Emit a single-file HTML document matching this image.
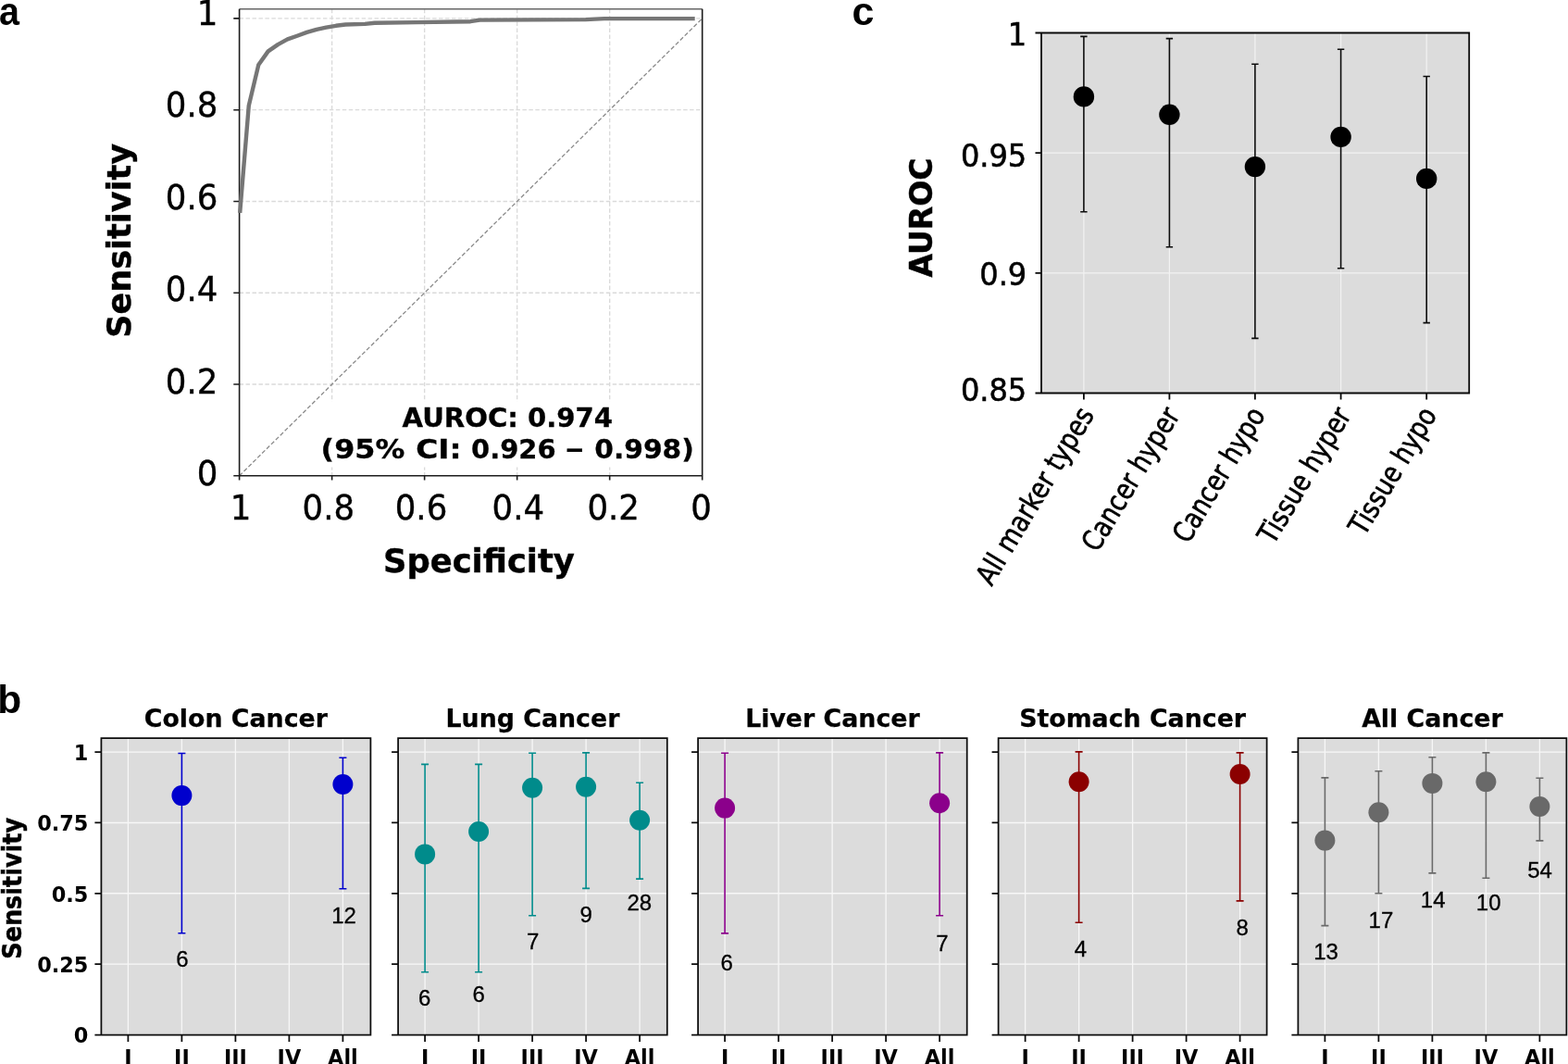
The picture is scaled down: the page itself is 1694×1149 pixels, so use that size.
<!DOCTYPE html>
<html lang="en">
<head>
<meta charset="utf-8">
<title>Figure</title>
<style>
html,body{margin:0;padding:0;background:#fff;}
.t{font-family:"DejaVu Sans Condensed","DejaVu Sans","Liberation Sans",sans-serif;}
.d,.db{font-family:"DejaVu Sans","Liberation Sans",sans-serif;}
.l,.lb{font-family:"Liberation Sans","DejaVu Sans",sans-serif;}
.db,.lb{font-weight:bold;}
body{width:1694px;height:1149px;overflow:hidden;font-family:"Liberation Sans",sans-serif;}
svg{display:block;}
</style>
</head>
<body>
<svg width="1694" height="1149" viewBox="0 0 1694 1149">
<rect width="1694" height="1149" fill="#fff"/>
<text class="lb" font-size="42.5" transform="translate(-1.00 27.20) scale(0.93 1)">a</text>
<text class="lb" font-size="42.5" transform="translate(920.50 27.20) scale(1.01 1)">c</text>
<text class="lb" font-size="42.5" x="-2.70" y="770.00">b</text>
<path d="M358.62 9.7V513.8M458.64 9.7V513.8M558.66 9.7V513.8M658.68 9.7V513.8M258.6 19.90H758.7M258.6 118.68H758.7M258.6 217.46H758.7M258.6 316.24H758.7M258.6 415.02H758.7" fill="none" stroke="#dadada" stroke-width="1.35" stroke-dasharray="4.5 2.45"/>
<line x1="258.60" y1="513.80" x2="758.70" y2="19.90" stroke="#8a8a8a" stroke-width="1.3" stroke-dasharray="4.5 2.4"/>
<rect x="345" y="433.5" width="410" height="71" fill="#fff"/>
<path d="M258.6 9.7H758.7" fill="none" stroke="#666" stroke-width="1.6"/>
<path d="M258.6 9.7V513.8H758.7V9.7M252.30 19.90h6.3M258.60 513.8v4.6M252.30 118.68h6.3M358.62 513.8v4.6M252.30 217.46h6.3M458.64 513.8v4.6M252.30 316.24h6.3M558.66 513.8v4.6M252.30 415.02h6.3M658.68 513.8v4.6M252.30 513.80h6.3M758.70 513.8v4.6" fill="none" stroke="#1c1c1c" stroke-width="1.6"/>
<path d="M259.2 229.9L268.8 113.9L279.3 70.0L289.7 55.4L300.2 48.1L310.6 42.4L321.0 38.7L331.5 34.9L342.0 31.8L352.4 29.7L362.9 27.8L373.3 26.5L394.2 25.9L404.7 24.7L450.0 24.1L508.2 23.2L518.3 21.6L632.7 21.1L652.8 20.1L750.7 20.1" fill="none" stroke="#767676" stroke-width="4.4" stroke-linejoin="round"/>
<text class="t" font-size="36.5" text-anchor="end" stroke="#000" stroke-width="0.35" transform="translate(235.30 26.80) scale(1.082 1)">1</text>
<text class="t" font-size="36.5" text-anchor="end" stroke="#000" stroke-width="0.35" transform="translate(235.30 126.32) scale(1.082 1)">0.8</text>
<text class="t" font-size="36.5" text-anchor="end" stroke="#000" stroke-width="0.35" transform="translate(235.30 225.84) scale(1.082 1)">0.6</text>
<text class="t" font-size="36.5" text-anchor="end" stroke="#000" stroke-width="0.35" transform="translate(235.30 325.36) scale(1.082 1)">0.4</text>
<text class="t" font-size="36.5" text-anchor="end" stroke="#000" stroke-width="0.35" transform="translate(235.30 424.88) scale(1.082 1)">0.2</text>
<text class="t" font-size="36.5" text-anchor="end" stroke="#000" stroke-width="0.35" transform="translate(235.30 524.40) scale(1.082 1)">0</text>
<text class="t" font-size="36.5" text-anchor="middle" stroke="#000" stroke-width="0.35" transform="translate(260.00 560.60) scale(1.082 1)">1</text>
<text class="t" font-size="36.5" text-anchor="middle" stroke="#000" stroke-width="0.35" transform="translate(354.80 560.60) scale(1.082 1)">0.8</text>
<text class="t" font-size="36.5" text-anchor="middle" stroke="#000" stroke-width="0.35" transform="translate(455.00 560.60) scale(1.082 1)">0.6</text>
<text class="t" font-size="36.5" text-anchor="middle" stroke="#000" stroke-width="0.35" transform="translate(559.80 560.60) scale(1.082 1)">0.4</text>
<text class="t" font-size="36.5" text-anchor="middle" stroke="#000" stroke-width="0.35" transform="translate(662.70 560.60) scale(1.082 1)">0.2</text>
<text class="t" font-size="36.5" text-anchor="middle" stroke="#000" stroke-width="0.35" transform="translate(757.50 560.60) scale(1.082 1)">0</text>
<text class="db" font-size="36" text-anchor="middle" stroke="#000" stroke-width="0.4" transform="translate(517.40 618.00) scale(0.982 1)">Specificity</text>
<text class="db" font-size="36" text-anchor="middle" stroke="#000" stroke-width="0.4" transform="translate(141.00 259.80) rotate(-90) scale(0.973 1)">Sensitivity</text>
<text class="db" font-size="28" text-anchor="middle" stroke="#000" stroke-width="0.3" transform="translate(548.30 461.00) scale(1.04 1)">AUROC: 0.974</text>
<text class="db" font-size="28" y="495" stroke="#000" stroke-width="0.3"><tspan x="346.63" textLength="90.68" lengthAdjust="spacingAndGlyphs">(95%</tspan> <tspan x="449.23" textLength="49.33" lengthAdjust="spacingAndGlyphs">CI:</tspan> <tspan x="509.07" textLength="91.49" lengthAdjust="spacingAndGlyphs">0.926</tspan> <tspan x="610.04" textLength="21.58" lengthAdjust="spacingAndGlyphs">−</tspan> <tspan x="642.24" textLength="107.65" lengthAdjust="spacingAndGlyphs">0.998)</tspan></text>
<rect x="1125.0" y="35.5" width="462.20" height="389.00" fill="#dcdcdc"/>
<path d="M1125.0 165.17H1587.2M1125.0 294.83H1587.2M1170.9 35.5V424.5M1263.4 35.5V424.5M1355.9 35.5V424.5M1448.6 35.5V424.5M1541.2 35.5V424.5" fill="none" stroke="#f2f2f2" stroke-width="1.25"/>
<path d="M1170.9 39.4V228.7M1167.20 39.4h7.4M1167.20 228.7h7.4M1263.4 41.6V266.7M1259.70 41.6h7.4M1259.70 266.7h7.4M1355.9 69.3V365.4M1352.20 69.3h7.4M1352.20 365.4h7.4M1448.6 53.3V289.7M1444.90 53.3h7.4M1444.90 289.7h7.4M1541.2 82.5V348.6M1537.50 82.5h7.4M1537.50 348.6h7.4" fill="none" stroke="#0c0c0c" stroke-width="1.6"/>
<circle cx="1170.9" cy="104.4" r="11.2" fill="#000"/>
<circle cx="1263.4" cy="123.8" r="11.2" fill="#000"/>
<circle cx="1355.9" cy="180.1" r="11.2" fill="#000"/>
<circle cx="1448.6" cy="147.9" r="11.2" fill="#000"/>
<circle cx="1541.2" cy="192.9" r="11.2" fill="#000"/>
<path d="M1125.0 35.5H1587.2V424.5H1125.0ZM1118.50 35.50h6.5M1118.50 165.17h6.5M1118.50 294.83h6.5M1118.50 424.50h6.5M1170.9 424.5v7M1263.4 424.5v7M1355.9 424.5v7M1448.6 424.5v7M1541.2 424.5v7" fill="none" stroke="#0a0a0a" stroke-width="1.8"/>
<text class="t" font-size="33" text-anchor="end" stroke="#000" stroke-width="0.5" transform="translate(1109.20 48.90) scale(1.078 1)">1</text>
<text class="t" font-size="33" text-anchor="end" stroke="#000" stroke-width="0.5" transform="translate(1109.20 180.10) scale(1.078 1)">0.95</text>
<text class="t" font-size="33" text-anchor="end" stroke="#000" stroke-width="0.5" transform="translate(1109.20 308.10) scale(1.078 1)">0.9</text>
<text class="t" font-size="33" text-anchor="end" stroke="#000" stroke-width="0.5" transform="translate(1109.20 432.70) scale(1.078 1)">0.85</text>
<text class="t" font-size="31" text-anchor="end" stroke="#000" stroke-width="0.6" transform="translate(1182.90 448.00) rotate(-59) scale(0.95 1)">All marker types</text>
<text class="t" font-size="31" text-anchor="end" stroke="#000" stroke-width="0.6" transform="translate(1275.40 448.00) rotate(-59) scale(0.93 1)">Cancer hyper</text>
<text class="t" font-size="31" text-anchor="end" stroke="#000" stroke-width="0.6" transform="translate(1367.90 448.00) rotate(-59) scale(0.93 1)">Cancer hypo</text>
<text class="t" font-size="31" text-anchor="end" stroke="#000" stroke-width="0.6" transform="translate(1460.60 448.00) rotate(-59) scale(0.93 1)">Tissue hyper</text>
<text class="t" font-size="31" text-anchor="end" stroke="#000" stroke-width="0.6" transform="translate(1553.20 448.00) rotate(-59) scale(0.93 1)">Tissue hypo</text>
<text class="db" font-size="33" text-anchor="middle" stroke="#000" stroke-width="0.5" transform="translate(1007.40 235.00) rotate(-90)">AUROC</text>
<rect x="109.4" y="797.0" width="291.00" height="320.60" fill="#dcdcdc"/>
<path d="M109.40 812.20H400.40M109.40 888.48H400.40M109.40 964.75H400.40M109.40 1041.03H400.40M138.40 797.0V1117.60M196.40 797.0V1117.60M254.40 797.0V1117.60M312.40 797.0V1117.60M370.40 797.0V1117.60" fill="none" stroke="#f7f7f7" stroke-width="1.3"/>
<path d="M196.40 813.5V1007.8M192.40 813.5h8.0M192.40 1007.8h8.0M370.40 818.2V959.7M366.40 818.2h8.0M366.40 959.7h8.0" fill="none" stroke="#0000cd" stroke-width="1.6"/>
<circle cx="196.40" cy="859.1" r="11" fill="#0000cd"/>
<text class="l" font-size="24" text-anchor="middle" stroke="#000" stroke-width="0.3" x="196.90" y="1044.00">6</text>
<circle cx="370.40" cy="847" r="11" fill="#0000cd"/>
<text class="l" font-size="24" text-anchor="middle" stroke="#000" stroke-width="0.3" x="371.50" y="996.80">12</text>
<path d="M109.40 797.0H400.40V1117.60H109.40ZM102.40 812.20h7M102.40 888.48h7M102.40 964.75h7M102.40 1041.03h7M102.40 1117.60h7M138.40 1117.60v7.4M196.40 1117.60v7.4M254.40 1117.60v7.4M312.40 1117.60v7.4M370.40 1117.60v7.4" fill="none" stroke="#0c0c0c" stroke-width="1.75"/>
<text class="db" font-size="22.4" text-anchor="end" x="95.40" y="821.20">1</text>
<text class="db" font-size="22.4" text-anchor="end" x="95.40" y="897.48">0.75</text>
<text class="db" font-size="22.4" text-anchor="end" x="95.40" y="973.75">0.5</text>
<text class="db" font-size="22.4" text-anchor="end" x="95.40" y="1050.03">0.25</text>
<text class="db" font-size="22.4" text-anchor="end" x="95.40" y="1126.30">0</text>
<text class="db" font-size="22.4" text-anchor="middle" x="138.40" y="1150.10">I</text>
<text class="db" font-size="22.4" text-anchor="middle" x="196.40" y="1150.10">II</text>
<text class="db" font-size="22.4" text-anchor="middle" x="254.40" y="1150.10">III</text>
<text class="db" font-size="22.4" text-anchor="middle" x="312.40" y="1150.10">IV</text>
<text class="db" font-size="22.4" text-anchor="middle" x="370.40" y="1150.10">All</text>
<text class="db" font-size="26.8" text-anchor="middle" stroke="#000" stroke-width="0.25" x="254.90" y="785.30">Colon Cancer</text>
<rect x="430.1" y="797.0" width="290.70" height="320.60" fill="#dcdcdc"/>
<path d="M430.10 812.20H720.80M430.10 888.48H720.80M430.10 964.75H720.80M430.10 1041.03H720.80M459.10 797.0V1117.60M517.10 797.0V1117.60M575.10 797.0V1117.60M633.10 797.0V1117.60M691.10 797.0V1117.60" fill="none" stroke="#f7f7f7" stroke-width="1.3"/>
<path d="M459.10 825.4V1049.8M455.10 825.4h8.0M455.10 1049.8h8.0M517.10 825.4V1049.8M513.10 825.4h8.0M513.10 1049.8h8.0M575.10 813.2V988.7M571.10 813.2h8.0M571.10 988.7h8.0M633.10 812.9V959.4M629.10 812.9h8.0M629.10 959.4h8.0M691.10 845.2V949.1M687.10 845.2h8.0M687.10 949.1h8.0" fill="none" stroke="#008b8b" stroke-width="1.6"/>
<circle cx="459.10" cy="922.4" r="11" fill="#008b8b"/>
<text class="l" font-size="24" text-anchor="middle" stroke="#000" stroke-width="0.3" x="458.60" y="1085.50">6</text>
<circle cx="517.10" cy="898" r="11" fill="#008b8b"/>
<text class="l" font-size="24" text-anchor="middle" stroke="#000" stroke-width="0.3" x="517.10" y="1082.20">6</text>
<circle cx="575.10" cy="850.8" r="11" fill="#008b8b"/>
<text class="l" font-size="24" text-anchor="middle" stroke="#000" stroke-width="0.3" x="575.60" y="1025.40">7</text>
<circle cx="633.10" cy="849.8" r="11" fill="#008b8b"/>
<text class="l" font-size="24" text-anchor="middle" stroke="#000" stroke-width="0.3" x="633.10" y="996.40">9</text>
<circle cx="691.10" cy="885.8" r="11" fill="#008b8b"/>
<text class="l" font-size="24" text-anchor="middle" stroke="#000" stroke-width="0.3" x="690.80" y="983.20">28</text>
<path d="M430.10 797.0H720.80V1117.60H430.10ZM423.10 812.20h7M423.10 888.48h7M423.10 964.75h7M423.10 1041.03h7M423.10 1117.60h7M459.10 1117.60v7.4M517.10 1117.60v7.4M575.10 1117.60v7.4M633.10 1117.60v7.4M691.10 1117.60v7.4" fill="none" stroke="#0c0c0c" stroke-width="1.75"/>
<text class="db" font-size="22.4" text-anchor="middle" x="459.10" y="1150.10">I</text>
<text class="db" font-size="22.4" text-anchor="middle" x="517.10" y="1150.10">II</text>
<text class="db" font-size="22.4" text-anchor="middle" x="575.10" y="1150.10">III</text>
<text class="db" font-size="22.4" text-anchor="middle" x="633.10" y="1150.10">IV</text>
<text class="db" font-size="22.4" text-anchor="middle" x="691.10" y="1150.10">All</text>
<text class="db" font-size="26.8" text-anchor="middle" stroke="#000" stroke-width="0.25" x="575.45" y="785.30">Lung Cancer</text>
<rect x="754.1" y="797.0" width="290.60" height="320.60" fill="#dcdcdc"/>
<path d="M754.10 812.20H1044.70M754.10 888.48H1044.70M754.10 964.75H1044.70M754.10 1041.03H1044.70M783.10 797.0V1117.60M841.10 797.0V1117.60M899.10 797.0V1117.60M957.10 797.0V1117.60M1015.10 797.0V1117.60" fill="none" stroke="#f7f7f7" stroke-width="1.3"/>
<path d="M783.10 813.2V1007.9M779.10 813.2h8.0M779.10 1007.9h8.0M1015.10 812.9V988.7M1011.10 812.9h8.0M1011.10 988.7h8.0" fill="none" stroke="#8b008b" stroke-width="1.6"/>
<circle cx="783.10" cy="872.6" r="11" fill="#8b008b"/>
<text class="l" font-size="24" text-anchor="middle" stroke="#000" stroke-width="0.3" x="785.10" y="1047.90">6</text>
<circle cx="1015.10" cy="867.3" r="11" fill="#8b008b"/>
<text class="l" font-size="24" text-anchor="middle" stroke="#000" stroke-width="0.3" x="1018.00" y="1027.40">7</text>
<path d="M754.10 797.0H1044.70V1117.60H754.10ZM747.10 812.20h7M747.10 888.48h7M747.10 964.75h7M747.10 1041.03h7M747.10 1117.60h7M783.10 1117.60v7.4M841.10 1117.60v7.4M899.10 1117.60v7.4M957.10 1117.60v7.4M1015.10 1117.60v7.4" fill="none" stroke="#0c0c0c" stroke-width="1.75"/>
<text class="db" font-size="22.4" text-anchor="middle" x="783.10" y="1150.10">I</text>
<text class="db" font-size="22.4" text-anchor="middle" x="841.10" y="1150.10">II</text>
<text class="db" font-size="22.4" text-anchor="middle" x="899.10" y="1150.10">III</text>
<text class="db" font-size="22.4" text-anchor="middle" x="957.10" y="1150.10">IV</text>
<text class="db" font-size="22.4" text-anchor="middle" x="1015.10" y="1150.10">All</text>
<text class="db" font-size="26.8" text-anchor="middle" stroke="#000" stroke-width="0.25" x="899.40" y="785.30">Liver Cancer</text>
<rect x="1078.6" y="797.0" width="290.00" height="320.60" fill="#dcdcdc"/>
<path d="M1078.60 812.20H1368.60M1078.60 888.48H1368.60M1078.60 964.75H1368.60M1078.60 1041.03H1368.60M1107.60 797.0V1117.60M1165.60 797.0V1117.60M1223.60 797.0V1117.60M1281.60 797.0V1117.60M1339.60 797.0V1117.60" fill="none" stroke="#f7f7f7" stroke-width="1.3"/>
<path d="M1165.60 811.9V996.3M1161.60 811.9h8.0M1161.60 996.3h8.0M1339.60 812.9V972.9M1335.60 812.9h8.0M1335.60 972.9h8.0" fill="none" stroke="#8b0000" stroke-width="1.6"/>
<circle cx="1165.60" cy="844.2" r="11" fill="#8b0000"/>
<text class="l" font-size="24" text-anchor="middle" stroke="#000" stroke-width="0.3" x="1167.50" y="1032.70">4</text>
<circle cx="1339.60" cy="836" r="11" fill="#8b0000"/>
<text class="l" font-size="24" text-anchor="middle" stroke="#000" stroke-width="0.3" x="1342.30" y="1009.90">8</text>
<path d="M1078.60 797.0H1368.60V1117.60H1078.60ZM1071.60 812.20h7M1071.60 888.48h7M1071.60 964.75h7M1071.60 1041.03h7M1071.60 1117.60h7M1107.60 1117.60v7.4M1165.60 1117.60v7.4M1223.60 1117.60v7.4M1281.60 1117.60v7.4M1339.60 1117.60v7.4" fill="none" stroke="#0c0c0c" stroke-width="1.75"/>
<text class="db" font-size="22.4" text-anchor="middle" x="1107.60" y="1150.10">I</text>
<text class="db" font-size="22.4" text-anchor="middle" x="1165.60" y="1150.10">II</text>
<text class="db" font-size="22.4" text-anchor="middle" x="1223.60" y="1150.10">III</text>
<text class="db" font-size="22.4" text-anchor="middle" x="1281.60" y="1150.10">IV</text>
<text class="db" font-size="22.4" text-anchor="middle" x="1339.60" y="1150.10">All</text>
<text class="db" font-size="26.8" text-anchor="middle" stroke="#000" stroke-width="0.25" x="1223.60" y="785.30">Stomach Cancer</text>
<rect x="1402.4" y="797.0" width="290.00" height="320.60" fill="#dcdcdc"/>
<path d="M1402.40 812.20H1692.40M1402.40 888.48H1692.40M1402.40 964.75H1692.40M1402.40 1041.03H1692.40M1431.40 797.0V1117.60M1489.40 797.0V1117.60M1547.40 797.0V1117.60M1605.40 797.0V1117.60M1663.40 797.0V1117.60" fill="none" stroke="#f7f7f7" stroke-width="1.3"/>
<path d="M1431.40 839.9V999.6M1427.40 839.9h8.0M1427.40 999.6h8.0M1489.40 832.7V964.7M1485.40 832.7h8.0M1485.40 964.7h8.0M1547.40 817.8V942.9M1543.40 817.8h8.0M1543.40 942.9h8.0M1605.40 812.9V948.2M1601.40 812.9h8.0M1601.40 948.2h8.0M1663.40 840.3V907.9M1659.40 840.3h8.0M1659.40 907.9h8.0" fill="none" stroke="#696969" stroke-width="1.6"/>
<circle cx="1431.40" cy="907.6" r="11" fill="#696969"/>
<text class="l" font-size="24" text-anchor="middle" stroke="#000" stroke-width="0.3" x="1432.60" y="1036.30">13</text>
<circle cx="1489.40" cy="877.2" r="11" fill="#696969"/>
<text class="l" font-size="24" text-anchor="middle" stroke="#000" stroke-width="0.3" x="1491.90" y="1002.30">17</text>
<circle cx="1547.40" cy="845.9" r="11" fill="#696969"/>
<text class="l" font-size="24" text-anchor="middle" stroke="#000" stroke-width="0.3" x="1548.20" y="979.90">14</text>
<circle cx="1605.40" cy="844.2" r="11" fill="#696969"/>
<text class="l" font-size="24" text-anchor="middle" stroke="#000" stroke-width="0.3" x="1608.20" y="983.20">10</text>
<circle cx="1663.40" cy="871" r="11" fill="#696969"/>
<text class="l" font-size="24" text-anchor="middle" stroke="#000" stroke-width="0.3" x="1663.60" y="947.90">54</text>
<path d="M1402.40 797.0H1692.40V1117.60H1402.40ZM1395.40 812.20h7M1395.40 888.48h7M1395.40 964.75h7M1395.40 1041.03h7M1395.40 1117.60h7M1431.40 1117.60v7.4M1489.40 1117.60v7.4M1547.40 1117.60v7.4M1605.40 1117.60v7.4M1663.40 1117.60v7.4" fill="none" stroke="#0c0c0c" stroke-width="1.75"/>
<text class="db" font-size="22.4" text-anchor="middle" x="1431.40" y="1150.10">I</text>
<text class="db" font-size="22.4" text-anchor="middle" x="1489.40" y="1150.10">II</text>
<text class="db" font-size="22.4" text-anchor="middle" x="1547.40" y="1150.10">III</text>
<text class="db" font-size="22.4" text-anchor="middle" x="1605.40" y="1150.10">IV</text>
<text class="db" font-size="22.4" text-anchor="middle" x="1663.40" y="1150.10">All</text>
<text class="db" font-size="26.8" text-anchor="middle" stroke="#000" stroke-width="0.25" x="1547.40" y="785.30">All Cancer</text>
<text class="db" font-size="28.5" text-anchor="middle" stroke="#000" stroke-width="0.5" transform="translate(22.50 959.30) rotate(-90) scale(0.895 1)">Sensitivity</text>
</svg>
</body>
</html>
